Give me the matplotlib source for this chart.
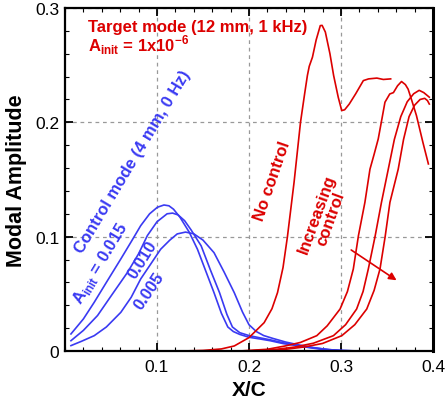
import numpy as np
import matplotlib
matplotlib.use("Agg")
import matplotlib.pyplot as plt
from matplotlib.ticker import MultipleLocator

plt.rcParams['font.family'] = ['Liberation Sans', 'DejaVu Sans']

# control mode (blue) curves, A_init = 0.015 / 0.010 / 0.005
ctl_015_x = [0.0065, 0.02, 0.0318, 0.045, 0.0607, 0.0723, 0.0823, 0.092, 0.1004, 0.1076, 0.113, 0.118,
             0.125, 0.135, 0.144, 0.153, 0.162, 0.17, 0.177, 0.183, 0.19, 0.2, 0.212, 0.223, 0.237, 0.252,
             0.265, 0.277, 0.29, 0.3, 0.32, 0.4]
ctl_015_y = [0.0149, 0.028, 0.0426, 0.06, 0.0805, 0.096, 0.1096, 0.12, 0.1257, 0.1277, 0.127, 0.124,
             0.117, 0.104, 0.089, 0.07, 0.051, 0.033, 0.021, 0.017, 0.0145, 0.012, 0.0105, 0.009, 0.0065, 0.0047,
             0.003, 0.0017, 0.0008, 0.0003, 0.0, 0.0]

ctl_010_x = [0.0065, 0.02, 0.0354, 0.05, 0.068, 0.08, 0.0896, 0.1, 0.111, 0.117, 0.123, 0.13, 0.137,
             0.148, 0.158, 0.168, 0.176, 0.182, 0.19, 0.2, 0.212, 0.223, 0.237, 0.252, 0.265, 0.28, 0.29,
             0.3, 0.32, 0.4]
ctl_010_y = [0.009, 0.018, 0.031, 0.048, 0.0688, 0.085, 0.101, 0.113, 0.12, 0.1206, 0.119, 0.114, 0.106,
             0.092, 0.071, 0.051, 0.032, 0.021, 0.016, 0.0135, 0.0115, 0.0098, 0.0072, 0.005, 0.0033, 0.0018, 0.001,
             0.0004, 0.0, 0.0]

ctl_005_x = [0.0065, 0.018, 0.0318, 0.045, 0.0607, 0.072, 0.0823, 0.094, 0.104, 0.114, 0.122, 0.131,
             0.14, 0.15, 0.162, 0.173, 0.184, 0.193, 0.2, 0.208, 0.216, 0.226, 0.24, 0.255, 0.27, 0.285,
             0.3, 0.32, 0.4]
ctl_005_y = [0.0047, 0.0085, 0.0134, 0.021, 0.0338, 0.047, 0.063, 0.077, 0.089, 0.097, 0.1024, 0.104,
             0.1025, 0.097, 0.086, 0.069, 0.051, 0.034, 0.023, 0.017, 0.0135, 0.011, 0.0078, 0.0052, 0.003, 0.0013,
             0.0005, 0.0, 0.0]

# target mode (red) curves
noctl_x = [0.128, 0.15, 0.17, 0.184, 0.2, 0.2165, 0.225, 0.231, 0.237, 0.2418, 0.249, 0.256, 0.2605,
           0.2635, 0.2655, 0.269, 0.273, 0.2775, 0.2795, 0.283, 0.288, 0.292, 0.297, 0.3008, 0.304, 0.309,
           0.316, 0.3243, 0.33, 0.339, 0.346, 0.354]
noctl_y = [0.0, 0.0005, 0.0018, 0.0044, 0.0117, 0.0248, 0.037, 0.051, 0.073, 0.1, 0.1475, 0.2, 0.225,
           0.241, 0.249, 0.257, 0.272, 0.2846, 0.2848, 0.279, 0.26, 0.241, 0.222, 0.2103, 0.211, 0.216,
           0.225, 0.2365, 0.238, 0.2387, 0.2375, 0.238]

ctl1_x = [0.19, 0.22, 0.24, 0.256, 0.2737, 0.285, 0.299, 0.307, 0.3134, 0.319, 0.326, 0.3315, 0.336,
          0.3405, 0.3445, 0.3478, 0.353, 0.357, 0.3615, 0.3658, 0.37, 0.373, 0.377, 0.382, 0.389, 0.395]
ctl1_y = [0.0, 0.0015, 0.0045, 0.0075, 0.0134, 0.022, 0.0367, 0.052, 0.0717, 0.101, 0.13, 0.159, 0.172,
          0.1855, 0.203, 0.2176, 0.2248, 0.226, 0.232, 0.2357, 0.233, 0.229, 0.219, 0.206, 0.1826, 0.1636]

ctl2_x = [0.2, 0.23, 0.25, 0.27, 0.2918, 0.305, 0.317, 0.324, 0.3297, 0.337, 0.344, 0.3514, 0.358,
          0.365, 0.372, 0.379, 0.385, 0.39, 0.396]
ctl2_y = [0.0, 0.0015, 0.0035, 0.0068, 0.0134, 0.023, 0.0367, 0.052, 0.0717, 0.1, 0.13, 0.159, 0.185,
          0.205, 0.218, 0.225, 0.228, 0.226, 0.222]

ctl3_x = [0.21, 0.24, 0.26, 0.28, 0.3009, 0.315, 0.328, 0.336, 0.3424, 0.348, 0.3532, 0.3622, 0.368,
          0.374, 0.38, 0.386, 0.391, 0.394, 0.396]
ctl3_y = [0.0, 0.0015, 0.0035, 0.0066, 0.0134, 0.023, 0.0367, 0.053, 0.0717, 0.1, 0.13, 0.159, 0.185,
          0.205, 0.215, 0.22, 0.221, 0.219, 0.216]

xtick_vals = [0.1, 0.2, 0.3, 0.4]
xtick_labels = ['0.1', '0.2', '0.3', '0.4']
ytick_vals = [0, 0.1, 0.2, 0.3]
ytick_labels = ['0', '0.1', '0.2', '0.3']

BLUE = '#3a3af2'
RED = '#dc0000'

fig = plt.figure(figsize=(4.45, 4.02), dpi=100)
ax = fig.add_axes([0.146, 0.1244, 0.827, 0.8532])

for xs, ys in [(ctl_015_x, ctl_015_y), (ctl_010_x, ctl_010_y), (ctl_005_x, ctl_005_y)]:
    ax.plot(xs, ys, color=BLUE, lw=1.2)
for xs, ys in [(noctl_x, noctl_y), (ctl1_x, ctl1_y), (ctl2_x, ctl2_y), (ctl3_x, ctl3_y)]:
    ax.plot(xs, ys, color=RED, lw=1.2)

ax.set_xlim(0, 0.4)
ax.set_ylim(0, 0.3)
ax.set_xticks(xtick_vals)
ax.set_xticklabels(xtick_labels)
ax.set_yticks(ytick_vals)
ax.set_yticklabels(ytick_labels)
ax.xaxis.set_minor_locator(MultipleLocator(0.02))
ax.yaxis.set_minor_locator(MultipleLocator(0.02))
ax.tick_params(which='both', direction='in', top=True, right=True, labelsize=12.5)
ax.tick_params(which='major', length=6, width=1.3)
ax.tick_params(which='minor', length=3, width=0.8)
ax.tick_params(axis='x', pad=6)
ax.tick_params(axis='y', pad=4)
for sp in ax.spines.values():
    sp.set_linewidth(1.6)
ax.spines['right'].set_linewidth(2.2)
ax.grid(True, which='major', color='#999999', ls=(0, (3, 3)), lw=0.9)

ax.set_xlabel('X/C', fontsize=15, fontweight='bold', labelpad=4)
ax.set_ylabel('Modal Amplitude', fontsize=15.5, fontweight='bold', labelpad=6)

# annotations
ax.text(0.0255, 0.2795, 'Target mode (12 mm, 1 kHz)', color=RED, fontsize=12, fontweight='bold',
        ha='left', va='baseline')
ax.text(0.0255, 0.2625, r'A$_{\mathregular{init}}$ = 1x10$^{\mathregular{-6}}$', color=RED, fontsize=12,
        fontweight='bold', ha='left', va='baseline')

ax.text(0.0733, 0.1665, 'Control mode (4 mm, 0 Hz)', color=BLUE, fontsize=12, fontweight='bold',
        rotation=59, ha='center', va='center', rotation_mode='anchor')
ax.text(0.039, 0.0776, r'A$_{\mathregular{init}}$ = 0.015', color=BLUE, fontsize=12, fontweight='bold',
        rotation=59, ha='center', va='center', rotation_mode='anchor')
ax.text(0.0842, 0.0805, '0.010', color=BLUE, fontsize=12, fontweight='bold',
        rotation=58, ha='center', va='center', rotation_mode='anchor')
ax.text(0.0913, 0.0528, '0.005', color=BLUE, fontsize=12, fontweight='bold',
        rotation=56, ha='center', va='center', rotation_mode='anchor')

ax.text(0.225, 0.149, 'No control', color=RED, fontsize=12, fontweight='bold',
        rotation=71, ha='center', va='center', rotation_mode='anchor')
ax.text(0.281, 0.1184, 'Increasing\ncontrol', color=RED, fontsize=12, fontweight='bold',
        rotation=70, ha='center', va='center', rotation_mode='anchor', linespacing=0.95)

ax.annotate('', xy=(0.3629, 0.0605), xytext=(0.3086, 0.0897),
            arrowprops=dict(arrowstyle='-|>', color=RED, lw=1.2, mutation_scale=11))

fig.savefig('out.png', dpi=100)
